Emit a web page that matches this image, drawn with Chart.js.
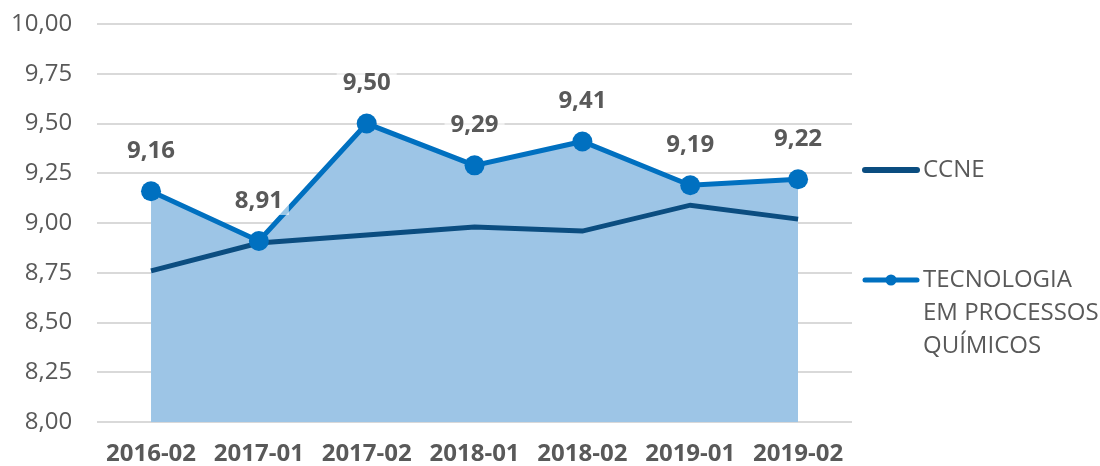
<!DOCTYPE html>
<html>
<head>
<meta charset="utf-8">
<script src="https://cdn.jsdelivr.net/npm/chart.js@4/dist/chart.umd.min.js"></script>
<style>
  html, body { margin: 0; padding: 0; background: #fff; }
  #wrap { width: 1100px; height: 466px; }
</style>
</head>
<body>
<div id="wrap"><canvas id="chart"></canvas></div>
<script>
// semesters on the x axis
const semesters = ['2016-02', '2017-01', '2017-02', '2018-01', '2018-02', '2019-01', '2019-02'];
// course grades (drawn with markers, labels and area)
const courseValues = [9.16, 8.91, 9.50, 9.29, 9.41, 9.19, 9.22];
// CCNE reference line
const ccneValues = [8.76, 8.90, 8.94, 8.98, 8.96, 9.09, 9.02];
const ccneName = 'CCNE';
const courseNameLines = ['TECNOLOGIA', 'EM PROCESSOS', 'QUÍMICOS'];

const GRAY = '#595959';
const fmt = v => v.toFixed(2).replace('.', ',');

// value labels above the course points
const valueLabels = {
    id: 'valueLabels',
    afterDatasetsDraw(chart) {
        const ctx = chart.ctx;
        const meta = chart.getDatasetMeta(0);
        ctx.save();
        ctx.font = 'bold 24px "Open Sans"';
        ctx.textAlign = 'center';
        ctx.textBaseline = 'middle';
        meta.data.forEach((pt, i) => {
            const txt = fmt(courseValues[i]);
            const w = ctx.measureText(txt).width;
            const y = pt.y - 40;
            ctx.fillStyle = 'rgba(255,255,255,0.6)';
            ctx.fillRect(pt.x - w / 2 - 6, y - 14, w + 12, 28);
            ctx.fillStyle = GRAY;
            ctx.fillText(txt, pt.x, y);
        });
        ctx.restore();
    }
};

// legend on the right side
const sideLegend = {
    id: 'sideLegend',
    afterDraw(chart) {
        const ctx = chart.ctx;
        const ds = chart.data.datasets;
        const x0 = 865, x1 = 917, tx = 923;
        ctx.save();
        ctx.lineCap = 'round';
        ctx.font = '24px "Open Sans"';
        ctx.textBaseline = 'middle';
        ctx.fillStyle = GRAY;

        // CCNE
        ctx.strokeStyle = ds[1].borderColor;
        ctx.lineWidth = 6;
        ctx.beginPath(); ctx.moveTo(x0, 170); ctx.lineTo(x1, 170); ctx.stroke();
        ctx.fillText(ccneName, tx, 170);

        // course
        ctx.strokeStyle = ds[0].borderColor;
        ctx.lineWidth = 5;
        ctx.beginPath(); ctx.moveTo(x0, 280); ctx.lineTo(x1, 280); ctx.stroke();
        ctx.fillStyle = ds[0].borderColor;
        ctx.beginPath(); ctx.arc((x0 + x1) / 2, 280, 5.5, 0, Math.PI * 2); ctx.fill();
        ctx.fillStyle = GRAY;
        courseNameLines.forEach((line, i) => ctx.fillText(line, tx, 280 + i * 33));
        ctx.restore();
    }
};

new Chart(document.getElementById('chart'), {
    type: 'line',
    data: {
        labels: semesters,
        datasets: [
            {
                label: courseNameLines.join(' '),
                data: courseValues,
                borderColor: '#0070c0',
                backgroundColor: '#9dc5e6',
                borderWidth: 5,
                pointRadius: 10,
                pointBackgroundColor: '#0070c0',
                pointBorderWidth: 0,
                fill: 'start',
                tension: 0,
                order: 0
            },
            {
                label: ccneName,
                data: ccneValues,
                borderColor: '#0b4d80',
                borderWidth: 5,
                pointRadius: 0,
                fill: false,
                tension: 0,
                order: 1
            }
        ]
    },
    options: {
        responsive: true,
        maintainAspectRatio: false,
        animation: false,
        layout: { padding: { left: -14, right: 248, top: 24, bottom: -13 } },
        plugins: {
            legend: { display: false },
            tooltip: { enabled: false },
            filler: { drawTime: 'beforeDatasetsDraw' }
        },
        scales: {
            x: {
                offset: true,
                grid: { display: false },
                border: { display: false },
                ticks: {
                    color: GRAY,
                    font: { family: 'Open Sans', size: 24, weight: 'bold' },
                    padding: 10,
                    maxRotation: 0
                }
            },
            y: {
                min: 8,
                max: 10,
                border: { display: false },
                grid: { color: '#d9d9d9', lineWidth: 2, drawTicks: false },
                afterFit(scale) { scale.paddingTop = 0; scale.paddingBottom = 0; },
                ticks: {
                    stepSize: 0.25,
                    color: GRAY,
                    font: { family: 'Open Sans', size: 24 },
                    padding: 25,
                    callback: v => fmt(v)
                }
            }
        }
    },
    plugins: [valueLabels, sideLegend]
});
</script>
</body>
</html>
